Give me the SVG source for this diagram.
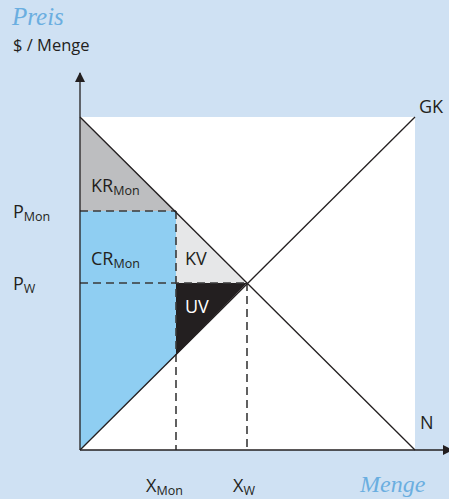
<svg xmlns="http://www.w3.org/2000/svg" width="449" height="499" viewBox="0 0 449 499">
<defs>
<style>
.lbl{font-family:"Open Sans","Liberation Sans",sans-serif;font-size:18px;fill:#231f20}
.sub{font-size:12.5px}
.ital{font-family:"Liberation Serif","DejaVu Serif",serif;font-style:italic;fill:#6aaee0}
.dash{stroke:#3a3a3a;stroke-width:1.6;stroke-dasharray:8 5;fill:none}
.ln{stroke:#231f20;stroke-width:1.3;fill:none}
</style>
<marker id="arr" viewBox="0 0 10 10" refX="9" refY="5" markerWidth="10" markerHeight="10" markerUnits="userSpaceOnUse" orient="auto">
<path d="M0,0 L10,5 L0,10 Z" fill="#231f20"/>
</marker>
</defs>
<rect width="449" height="499" fill="#cfe1f3"/>
<rect x="80" y="117" width="335" height="333" fill="#ffffff"/>
<g id="areas">
<polygon id="KR" points="80,117 80,211 176,211" fill="#bdbec0"/>
<polygon id="CR" points="80,211 176,211 176,355 80,450" fill="#8fcef2"/>
<polygon id="KV" points="176,211 176,283 247,283" fill="#e6e7e8"/>
<polygon id="UV" points="176,283 247,283 176,355" fill="#231f20"/>
</g>
<g id="connectors">
<line class="dash" x1="80" y1="211" x2="176" y2="211"/>
<line class="dash" x1="80" y1="283" x2="247" y2="283"/>
<line class="dash" x1="176" y1="211" x2="176" y2="450"/>
<line class="dash" x1="247" y1="283" x2="247" y2="450"/>
<line class="ln" x1="80" y1="117" x2="415" y2="450"/>
<line class="ln" x1="80" y1="450" x2="415" y2="117"/>
<line class="ln" x1="80" y1="450" x2="80" y2="73" marker-end="url(#arr)"/>
<line class="ln" x1="80" y1="450" x2="452" y2="450" marker-end="url(#arr)"/>
</g>
<g id="texts">
<text class="ital" x="12" y="25" font-size="25">Preis</text>
<text class="lbl" x="13" y="51" style="font-size:16.5px">$ / Menge</text>
<text class="lbl" x="419" y="113">GK</text>
<text class="lbl" x="420" y="429">N</text>
<text class="lbl" x="13" y="218">P<tspan class="sub" dy="3">Mon</tspan></text>
<text class="lbl" x="13" y="290">P<tspan class="sub" dy="3">W</tspan></text>
<text class="lbl" x="146" y="492">X<tspan class="sub" dy="3">Mon</tspan></text>
<text class="lbl" x="233" y="492">X<tspan class="sub" dy="3">W</tspan></text>
<text class="ital" x="360" y="492" font-size="24">Menge</text>
<text class="lbl" x="91" y="192">KR<tspan class="sub" dy="3">Mon</tspan></text>
<text class="lbl" x="91" y="265">CR<tspan class="sub" dy="3">Mon</tspan></text>
<text class="lbl" x="185" y="265">KV</text>
<text class="lbl" x="185" y="313" style="fill:#ffffff">UV</text>
</g>
</svg>
